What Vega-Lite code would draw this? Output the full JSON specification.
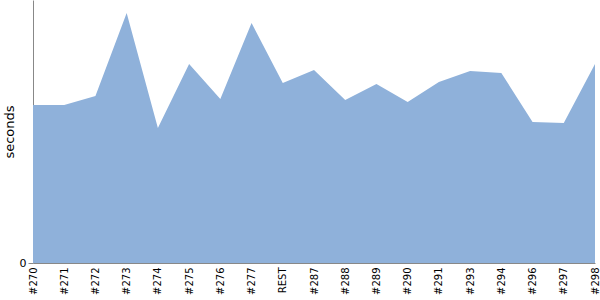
{
  "$schema": "https://vega.github.io/schema/vega-lite/v6.json",
  "width": 562,
  "height": 263,
  "autosize": {"type": "none"},
  "padding": {"left": 33, "top": 0, "right": 5, "bottom": 37},
  "background": "white",
  "config": {"view": {"stroke": null}, "font": "DejaVu Sans"},
  "data": {"values": [
    {"build": "#270", "seconds": 158},
    {"build": "#271", "seconds": 158},
    {"build": "#272", "seconds": 167},
    {"build": "#273", "seconds": 250},
    {"build": "#274", "seconds": 135},
    {"build": "#275", "seconds": 199},
    {"build": "#276", "seconds": 164},
    {"build": "#277", "seconds": 240},
    {"build": "REST", "seconds": 180},
    {"build": "#287", "seconds": 193},
    {"build": "#288", "seconds": 163},
    {"build": "#289", "seconds": 179},
    {"build": "#290", "seconds": 161},
    {"build": "#291", "seconds": 181},
    {"build": "#293", "seconds": 192},
    {"build": "#294", "seconds": 190},
    {"build": "#296", "seconds": 141},
    {"build": "#297", "seconds": 140},
    {"build": "#298", "seconds": 199}
  ]},
  "mark": {"type": "area", "color": "#8fb1da", "opacity": 1},
  "encoding": {
    "x": {
      "field": "build", "type": "ordinal", "sort": null,
      "scale": {"type": "point", "padding": 0},
      "axis": {"title": null, "labelAngle": -90, "labelFontSize": 10, "labelColor": "black",
               "ticks": false, "labelPadding": 4, "domainColor": "#888888", "labelBaseline": "middle", "labelAlign": "right"}
    },
    "y": {
      "field": "seconds", "type": "quantitative",
      "scale": {"domain": [0, 263], "nice": false},
      "axis": {"values": [0], "title": "seconds", "titleFontSize": 13, "titleFontWeight": "normal",
               "titleColor": "black", "titlePadding": 3, "labelFontSize": 11, "labelColor": "black",
               "grid": false, "domainColor": "#888888", "tickColor": "#888888", "tickSize": 5, "labelPadding": 2}
    }
  }
}
